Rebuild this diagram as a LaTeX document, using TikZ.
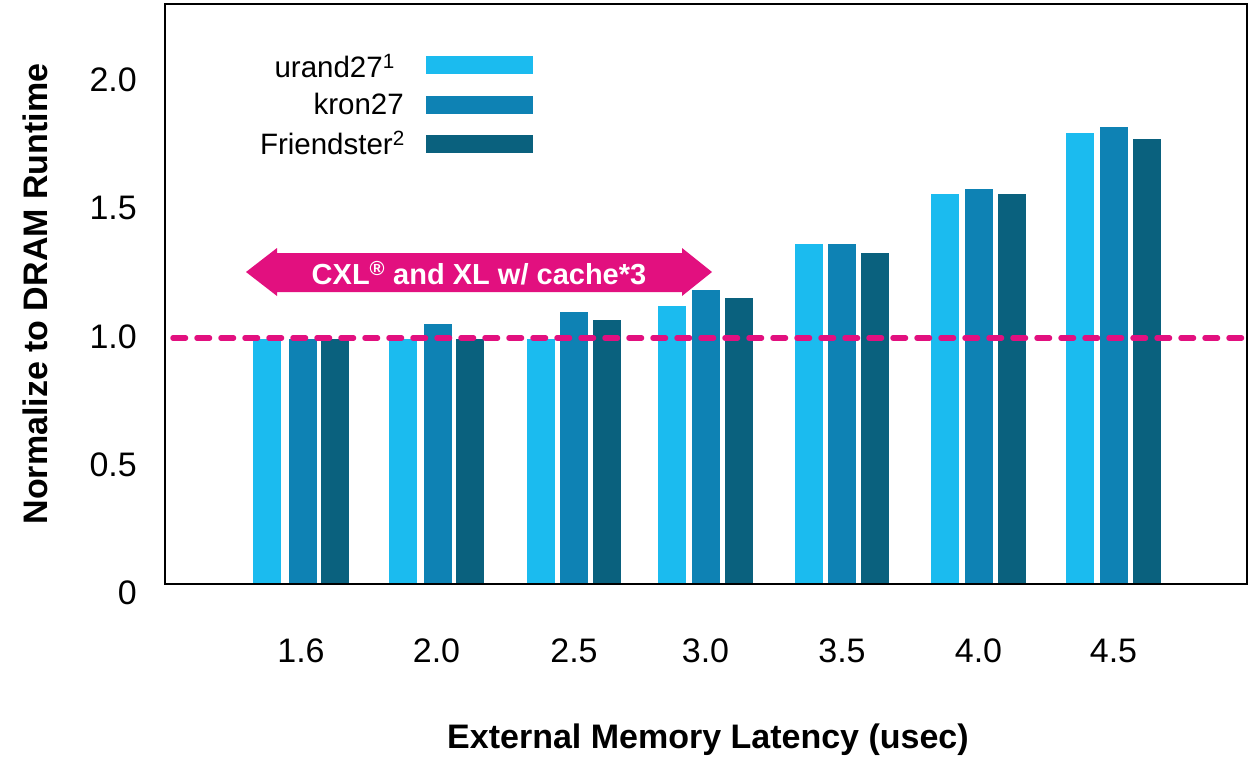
\documentclass[tikz,border=0pt]{standalone}
\usepackage{fontspec}
\setmainfont{Liberation Sans}
\usetikzlibrary{positioning}
\definecolor{cUrand}{HTML}{1BBBEF}
\definecolor{cKron}{HTML}{0E82B4}
\definecolor{cFriend}{HTML}{0A617E}
\definecolor{cMag}{HTML}{E2107F}
\tikzset{
  ticklbl/.style={inner sep=0pt, font=\fontsize{34}{40}\selectfont},
  leglbl/.style={inner sep=0pt, anchor=east, font=\fontsize{29.5}{35}\selectfont},
  axlbl/.style={inner sep=0pt, font=\fontsize{34}{40}\selectfont\bfseries},
  bar/.style={draw=none},
  frame/.style={draw=black, line width=2pt},
  refline/.style={draw=cMag, line width=5.5pt, line cap=round, dash pattern=on 12.5pt off 11.5pt},
}
\begin{document}
\begin{tikzpicture}[x=1pt,y=-1pt]
\useasboundingbox (0,0) rectangle (1255,760);
% bars
\foreach \xl/\tp/\col in {253/339/cUrand,289/339/cKron,321/339/cFriend,
  389/339/cUrand,424/324/cKron,456/339/cFriend,
  527/339/cUrand,560/312/cKron,593/320/cFriend,
  658/306/cUrand,692/290/cKron,725/298/cFriend,
  795/244/cUrand,828/244/cKron,861/253/cFriend,
  931/194/cUrand,965/189/cKron,998/194/cFriend,
  1066/133/cUrand,1100/127/cKron,1133/139/cFriend}
  \fill[bar,\col] (\xl,\tp) rectangle ++(28,584-\tp);
% frame
\draw[frame] (165,4) rectangle (1247,584);
% reference line
\coordinate (refL) at (173,338);
\coordinate (refR) at (1243,338);
\draw[refline] (refL) -- (refR);
% arrow
\fill[cMag] (246,272) -- (277,248) -- (277,253) -- (682,253) -- (682,248) -- (712,272)
  -- (682,296) -- (682,292) -- (277,292) -- (277,296) -- cycle;
\node[inner sep=0pt, text=white, font=\fontsize{29}{34}\selectfont\bfseries] (arrowtxt) at (479,273)
  {CXL\textsuperscript{\textregistered} and XL w/ cache*3};
% legend
\fill[cUrand] (426,56) rectangle (533,74);
\fill[cKron] (426,96) rectangle (533,114);
\fill[cFriend] (426,135) rectangle (533,153);
\node[leglbl] (lg1) at (395,66) {urand27\textsuperscript{1}};
\node[leglbl] (lg2) at (404,104) {kron27};
\node[leglbl] (lg3) at (405,143) {Friendster\textsuperscript{2}};
% y ticks
\node[ticklbl, anchor=east] (y20) at (137,80) {2.0};
\node[ticklbl, anchor=east] (y15) at (137,208) {1.5};
\node[ticklbl, anchor=east] (y10) at (137,337) {1.0};
\node[ticklbl, anchor=east] (y05) at (137,465) {0.5};
\node[ticklbl, anchor=east] (y00) at (137,593) {0};
% x ticks
\node[ticklbl] (x1) at (301,651) {1.6};
\node[ticklbl] (x2) at (436.5,651) {2.0};
\node[ticklbl] (x3) at (574,651) {2.5};
\node[ticklbl] (x4) at (705.5,651) {3.0};
\node[ticklbl] (x5) at (842,651) {3.5};
\node[ticklbl] (x6) at (978.5,651) {4.0};
\node[ticklbl] (x7) at (1113.5,651) {4.5};
% axis labels
\node[axlbl] (xlab) at (708,740) {External Memory Latency (usec)};
\node[axlbl, rotate=90] (ylab) at (35,294) {Normalize to DRAM Runtime};
\end{tikzpicture}
\end{document}
